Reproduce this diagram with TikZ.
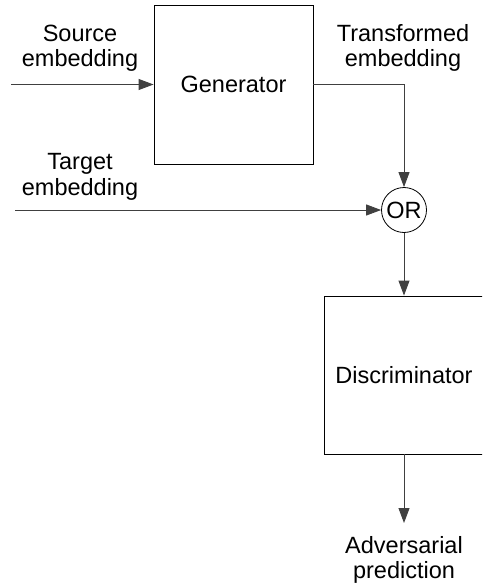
\documentclass[tikz,border=0pt]{standalone}
\usepackage{fontspec}
\setmainfont{Liberation Sans}
\usetikzlibrary{arrows.meta}
\begin{document}
\begin{tikzpicture}[x=1pt,y=-1pt,
  every node/.style={font=\fontsize{23.5}{25.5}\selectfont},
  blockbox/.style={draw=black,line width=0.9pt,minimum width=159pt,minimum height=159pt,inner sep=0pt},
  orbox/.style={draw=black,line width=0.8pt,circle,minimum size=45pt,inner sep=0pt},
  lbl/.style={align=center,inner sep=0pt},
  conn/.style={draw=black!75,line width=0.9pt,-{Triangle[length=15pt,width=11pt]}}]
\useasboundingbox (0,0) rectangle (482,583);
\clip (0,0) rectangle (482,583);
\node[blockbox] (gen) at (233.5,84.5) {Generator};
\node[orbox] (or) at (404,210) {OR};
\node[blockbox,minimum width=170pt,minimum height=158pt] (disc) at (409,375) {\hspace*{-10pt}Discriminator};
\coordinate (sstart) at (11,84.5);
\coordinate (tstart) at (15,210);
\coordinate (pend) at (404,523);
\node[lbl] (srcl) at (80,48) {Source\\embedding};
\node[lbl] (trl) at (403,48) {Transformed\\embedding};
\node[lbl] (tgl) at (80,177) {Target\\embedding};
\node[lbl] (advl) at (404,560) {Adversarial\\prediction};
\draw[conn] (sstart) -- (gen.west);
\draw[conn] (gen.east) -| (or.north);
\draw[conn] (tstart) -- (or.west);
\draw[conn] (or.south) -- (or.south |- disc.north);
\draw[conn] (disc.south -| pend) -- (pend);
\end{tikzpicture}
\end{document}
